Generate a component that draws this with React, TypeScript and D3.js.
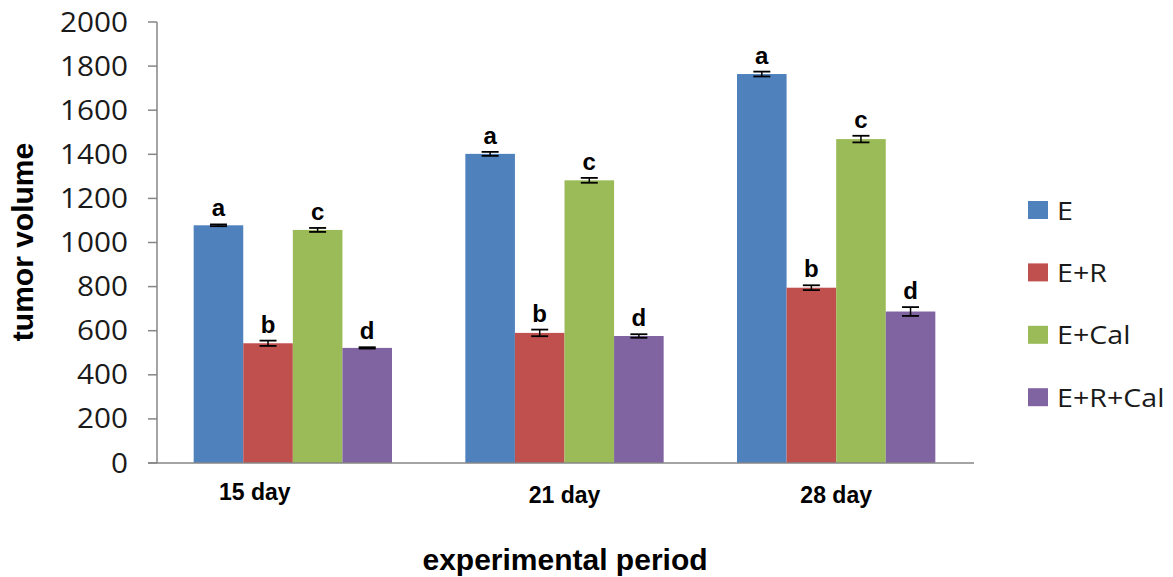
import React from "react";
import * as d3 from "d3";

const categories = ["15 day", "21 day", "28 day"];
const series = ["E", "E+R", "E+Cal", "E+R+Cal"];
const letters = ["a", "b", "c", "d"];
const colors = ["#4F81BD", "#C0504D", "#9BBB59", "#8064A2"];
const valuesE = [1078, 1402, 1764];
const valuesER = [543, 590, 795];
const valuesECal = [1057, 1282, 1469];
const valuesERCal = [522, 576, 687];
const errE = [4, 9, 11];
const errER = [12, 15, 11];
const errECal = [9, 11, 15];
const errERCal = [3, 8, 20];
const yTicks = [0, 200, 400, 600, 800, 1000, 1200, 1400, 1600, 1800, 2000];

const seriesValues = [valuesE, valuesER, valuesECal, valuesERCal];
const seriesErrors = [errE, errER, errECal, errERCal];

const W = 1173;
const H = 577;
const left = 157;
const right = 972;
const top = 22;
const bottom = 463;
const SX = 1.1;
// the first category label sits left of its group in the original
const labelShift = [-38, 0, 0];

export default function App() {
  const y = d3.scaleLinear().domain([0, 2000]).range([bottom, top]);
  const x0 = d3
    .scaleBand<string>()
    .domain(categories)
    .range([left, right])
    .paddingInner(0.27)
    .paddingOuter(0.135);
  const x1 = d3
    .scaleBand<string>()
    .domain(series)
    .range([0, x0.bandwidth()])
    .padding(0);
  const capW = 17;
  const numFont = "'Open Sans', sans-serif";
  const boldFont = "'Liberation Sans', Arial, sans-serif";

  return (
    <svg
      width={W}
      height={H}
      style={{ position: "absolute", left: 0, top: 0, background: "#fff" }}
    >
      <rect x={0} y={0} width={W} height={H} fill="#fff" />
      {categories.map((c, ci) =>
        series.map((s, si) => {
          const v = seriesValues[si][ci];
          const e = seriesErrors[si][ci];
          const bx = (x0(c) as number) + (x1(s) as number);
          const bw = x1.bandwidth();
          const cx = bx + bw / 2;
          const yt = y(v + e);
          const yb = y(v - e);
          return (
            <g key={c + s}>
              <rect
                x={bx}
                y={y(v)}
                width={bw}
                height={bottom - y(v)}
                fill={colors[si]}
              />
              <line x1={cx} x2={cx} y1={yt} y2={yb} stroke="#000" strokeWidth={1.5} />
              <line x1={cx - capW / 2} x2={cx + capW / 2} y1={yt} y2={yt} stroke="#000" strokeWidth={1.8} />
              <line x1={cx - capW / 2} x2={cx + capW / 2} y1={yb} y2={yb} stroke="#000" strokeWidth={1.8} />
              <text
                x={cx}
                y={yt - 8}
                textAnchor="middle"
                fontFamily={boldFont}
                fontWeight="bold"
                fontSize={24}
                fill="#000"
              >
                {letters[si]}
              </text>
            </g>
          );
        })
      )}
      <line x1={left} x2={left} y1={top} y2={bottom} stroke="#868686" strokeWidth={1.5} />
      {yTicks.map((t) => (
        <g key={t}>
          <line x1={left - 9} x2={left} y1={y(t)} y2={y(t)} stroke="#868686" strokeWidth={1.5} />
          <text
            transform={`translate(${128},${y(t) + 9.5}) scale(${SX},1)`}
            textAnchor="end"
            fontFamily={numFont}
            fontSize={27}
            fill="#1a1a1a"
          >
            {t}
          </text>
        </g>
      ))}
      <line x1={left - 9} x2={right + 2} y1={bottom} y2={bottom} stroke="#868686" strokeWidth={1.5} />
      {categories.map((c, ci) => (
        <text
          key={c}
          x={(x0(c) as number) + x0.bandwidth() / 2 + labelShift[ci]}
          y={ci === 0 ? 500 : 503}
          textAnchor="middle"
          fontFamily={boldFont}
          fontWeight="bold"
          fontSize={23}
          fill="#000"
        >
          {c}
        </text>
      ))}
      <text
        x={565}
        y={570}
        textAnchor="middle"
        fontFamily={boldFont}
        fontWeight="bold"
        fontSize={30}
        fill="#000"
      >
        experimental period
      </text>
      <text
        transform={`translate(33,242) rotate(-90)`}
        textAnchor="middle"
        fontFamily={boldFont}
        fontWeight="bold"
        fontSize={30}
        fill="#000"
      >
        tumor volume
      </text>
      {series.map((s, si) => {
        const cy = 210 + si * 62.4;
        return (
          <g key={s}>
            <rect x={1028} y={cy - 9} width={20} height={18} fill={colors[si]} />
            <text
              transform={`translate(1057,${cy + 9.5}) scale(${SX},1)`}
              fontFamily={numFont}
              fontSize={26}
              fill="#1a1a1a"
            >
              {s}
            </text>
          </g>
        );
      })}
    </svg>
  );
}
